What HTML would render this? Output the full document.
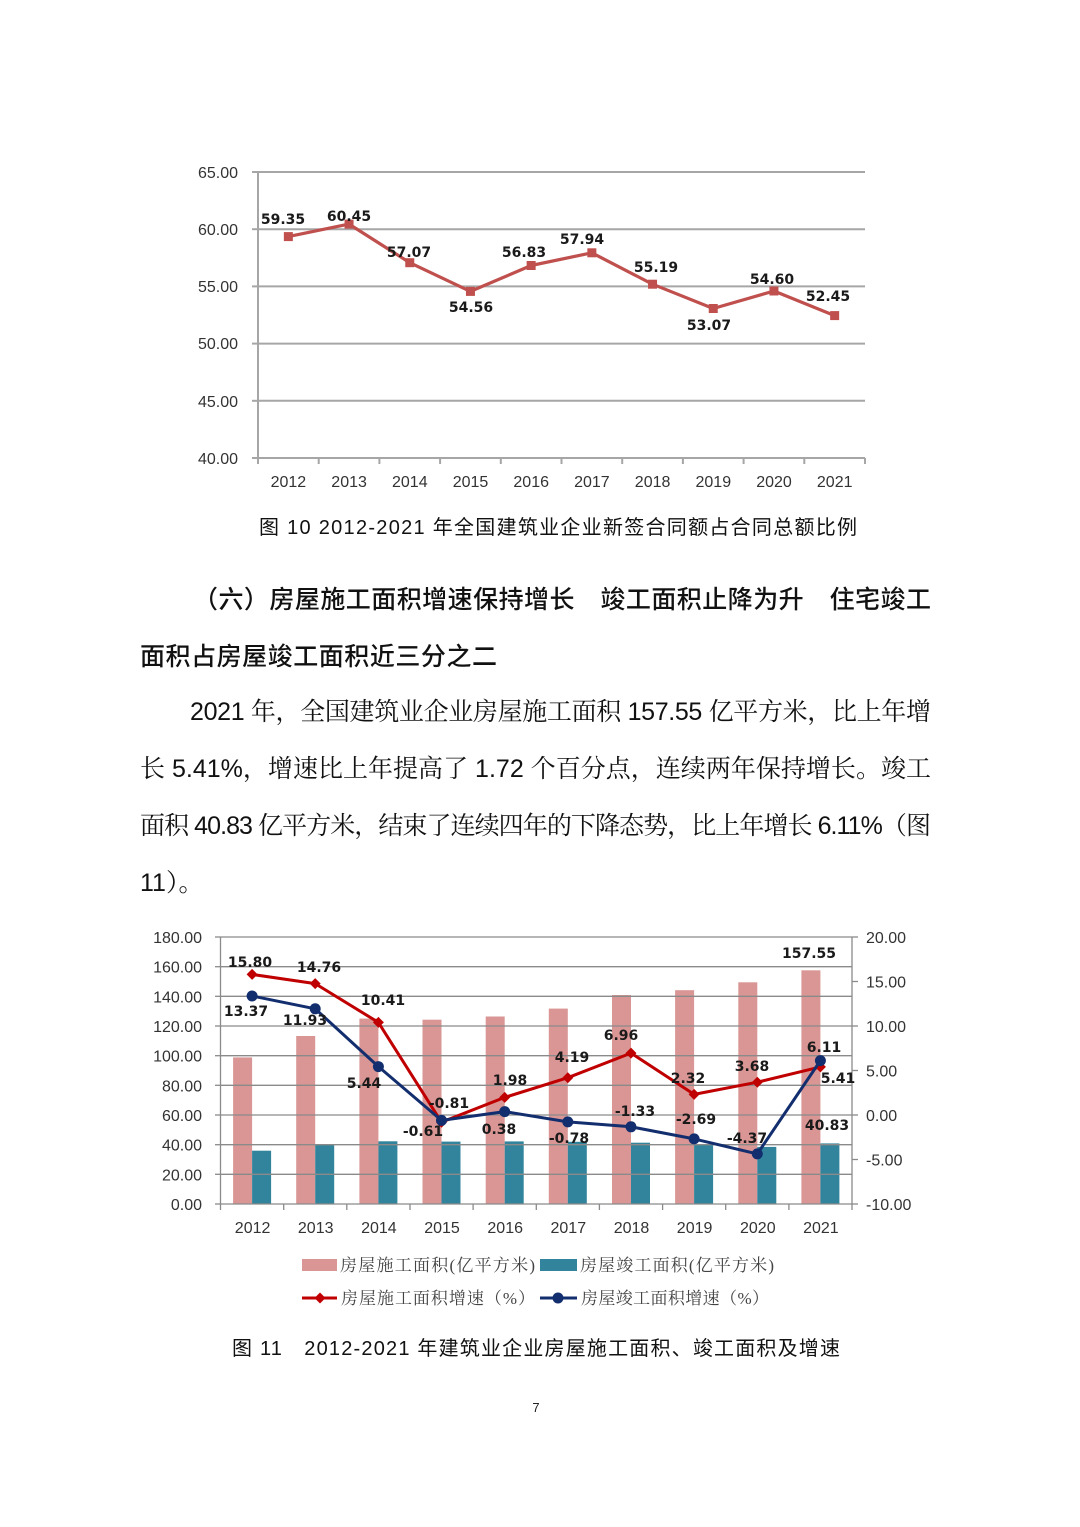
<!DOCTYPE html>
<html><head><meta charset="utf-8"><style>
html,body{margin:0;padding:0;background:#fff;}
svg{display:block;}
.ax{font-family:"Liberation Sans","DejaVu Sans",sans-serif;font-size:16px;fill:#333;}
.dl{font-family:"DejaVu Sans","Liberation Sans",sans-serif;font-size:14px;font-weight:bold;fill:#1a1a1a;}
.cap{font-family:"Liberation Sans","Noto Sans CJK SC",sans-serif;font-size:20px;fill:#111;}
.hd{font-family:"Liberation Sans","Noto Sans CJK SC",sans-serif;font-size:25px;fill:#111;font-weight:500;}
.pa{font-family:"Liberation Sans","Noto Serif CJK SC",serif;font-size:25px;fill:#111;}
.lg{font-family:"Liberation Serif","Noto Serif CJK SC",serif;font-size:17px;fill:#444;}
</style></head><body>
<svg width="1080" height="1527" viewBox="0 0 1080 1527" xmlns="http://www.w3.org/2000/svg">
<rect width="1080" height="1527" fill="#fff"/>

<!-- ===== Chart 10 ===== -->
<g stroke="#a6a6a6" stroke-width="2" fill="none">
  <line x1="258" y1="172" x2="865" y2="172"/>
  <line x1="258" y1="229.2" x2="865" y2="229.2"/>
  <line x1="258" y1="286.4" x2="865" y2="286.4"/>
  <line x1="258" y1="343.6" x2="865" y2="343.6"/>
  <line x1="258" y1="400.8" x2="865" y2="400.8"/>
  <line x1="258" y1="458" x2="865" y2="458"/>
  <line x1="258" y1="172" x2="258" y2="458"/>
  <line x1="252" y1="172" x2="258" y2="172"/>
  <line x1="252" y1="229.2" x2="258" y2="229.2"/>
  <line x1="252" y1="286.4" x2="258" y2="286.4"/>
  <line x1="252" y1="343.6" x2="258" y2="343.6"/>
  <line x1="252" y1="400.8" x2="258" y2="400.8"/>
  <line x1="252" y1="458" x2="258" y2="458"/>
  <line x1="258" y1="458" x2="258" y2="464"/>
  <line x1="318.7" y1="458" x2="318.7" y2="464"/>
  <line x1="379.4" y1="458" x2="379.4" y2="464"/>
  <line x1="440.1" y1="458" x2="440.1" y2="464"/>
  <line x1="500.8" y1="458" x2="500.8" y2="464"/>
  <line x1="561.5" y1="458" x2="561.5" y2="464"/>
  <line x1="622.2" y1="458" x2="622.2" y2="464"/>
  <line x1="682.9" y1="458" x2="682.9" y2="464"/>
  <line x1="743.6" y1="458" x2="743.6" y2="464"/>
  <line x1="804.3" y1="458" x2="804.3" y2="464"/>
  <line x1="865" y1="458" x2="865" y2="464"/>
</g>
<g class="ax" text-anchor="end">
  <text x="238" y="178">65.00</text>
  <text x="238" y="235">60.00</text>
  <text x="238" y="292">55.00</text>
  <text x="238" y="349">50.00</text>
  <text x="238" y="407">45.00</text>
  <text x="238" y="464">40.00</text>
</g>
<g class="ax" text-anchor="middle">
  <text x="288.4" y="487">2012</text>
  <text x="349.1" y="487">2013</text>
  <text x="409.8" y="487">2014</text>
  <text x="470.5" y="487">2015</text>
  <text x="531.2" y="487">2016</text>
  <text x="591.9" y="487">2017</text>
  <text x="652.6" y="487">2018</text>
  <text x="713.3" y="487">2019</text>
  <text x="774" y="487">2020</text>
  <text x="834.7" y="487">2021</text>
</g>
<polyline fill="none" stroke="#c0504d" stroke-width="3.2" stroke-linejoin="round"
 points="288.35,236.6 349.05,224.1 409.75,262.7 470.45,291.4 531.15,265.5 591.85,252.8 652.55,284.2 713.25,308.5 773.95,291.0 834.65,315.6"/>
<g fill="#c0504d">
  <rect x="283.85" y="232.1" width="9" height="9"/>
  <rect x="344.55" y="219.6" width="9" height="9"/>
  <rect x="405.25" y="258.2" width="9" height="9"/>
  <rect x="465.95" y="286.9" width="9" height="9"/>
  <rect x="526.65" y="261" width="9" height="9"/>
  <rect x="587.35" y="248.3" width="9" height="9"/>
  <rect x="648.05" y="279.7" width="9" height="9"/>
  <rect x="708.75" y="304" width="9" height="9"/>
  <rect x="769.45" y="286.5" width="9" height="9"/>
  <rect x="830.15" y="311.1" width="9" height="9"/>
</g>
<g class="dl" text-anchor="middle">
  <text x="283" y="224">59.35</text>
  <text x="349" y="221">60.45</text>
  <text x="409" y="257">57.07</text>
  <text x="471" y="312">54.56</text>
  <text x="524" y="257">56.83</text>
  <text x="582" y="244">57.94</text>
  <text x="656" y="272">55.19</text>
  <text x="709" y="330">53.07</text>
  <text x="772" y="284">54.60</text>
  <text x="828" y="301">52.45</text>
</g>

<text class="cap" x="259" y="534" textLength="598" lengthAdjust="spacing">图 10 2012-2021 年全国建筑业企业新签合同额占合同总额比例</text>

<!-- ===== Text ===== -->
<text class="hd" x="193" y="608" textLength="738" lengthAdjust="spacing">（六）房屋施工面积增速保持增长　竣工面积止降为升　住宅竣工</text>
<text class="hd" x="140" y="665" textLength="357" lengthAdjust="spacing">面积占房屋竣工面积近三分之二</text>

<text class="pa" x="190" y="720" textLength="741" lengthAdjust="spacing">2021 年，全国建筑业企业房屋施工面积 157.55 亿平方米，比上年增</text>
<text class="pa" x="140" y="777" textLength="791" lengthAdjust="spacing">长 5.41%，增速比上年提高了 1.72 个百分点，连续两年保持增长。竣工</text>
<text class="pa" x="140" y="834" textLength="791" lengthAdjust="spacing">面积 40.83 亿平方米，结束了连续四年的下降态势，比上年增长 6.11%（图</text>
<text class="pa" x="140" y="891">11）。</text>

<!-- ===== Chart 11 ===== -->
<g fill="#d99694">
  <rect x="233.1" y="1057.4" width="19" height="146.6"/>
  <rect x="296.2" y="1036.0" width="19" height="168"/>
  <rect x="359.4" y="1018.6" width="19" height="185.4"/>
  <rect x="422.5" y="1019.7" width="19" height="184.3"/>
  <rect x="485.7" y="1016.5" width="19" height="187.5"/>
  <rect x="548.8" y="1008.6" width="19" height="195.4"/>
  <rect x="612" y="995.0" width="19" height="209"/>
  <rect x="675.1" y="990.2" width="19" height="213.8"/>
  <rect x="738.3" y="982.3" width="19" height="221.7"/>
  <rect x="801.4" y="970.3" width="19" height="233.7"/>
</g>
<g fill="#31849b">
  <rect x="252.1" y="1150.7" width="19" height="53.3"/>
  <rect x="315.2" y="1144.4" width="19" height="59.6"/>
  <rect x="378.4" y="1141.3" width="19" height="62.7"/>
  <rect x="441.5" y="1141.6" width="19" height="62.4"/>
  <rect x="504.7" y="1141.4" width="19" height="62.6"/>
  <rect x="567.8" y="1141.8" width="19" height="62.2"/>
  <rect x="631" y="1142.7" width="19" height="61.3"/>
  <rect x="694.1" y="1144.4" width="19" height="59.6"/>
  <rect x="757.3" y="1146.9" width="19" height="57.1"/>
  <rect x="820.4" y="1143.4" width="19" height="60.6"/>
</g>
<g stroke="#8a8a8a" stroke-width="1.3" fill="none">
  <line x1="220.5" y1="937" x2="852" y2="937"/>
  <line x1="220.5" y1="966.7" x2="852" y2="966.7"/>
  <line x1="220.5" y1="996.3" x2="852" y2="996.3"/>
  <line x1="220.5" y1="1026" x2="852" y2="1026"/>
  <line x1="220.5" y1="1055.7" x2="852" y2="1055.7"/>
  <line x1="220.5" y1="1085.3" x2="852" y2="1085.3"/>
  <line x1="220.5" y1="1115" x2="852" y2="1115"/>
  <line x1="220.5" y1="1144.7" x2="852" y2="1144.7"/>
  <line x1="220.5" y1="1174.3" x2="852" y2="1174.3"/>
  <line x1="220.5" y1="1204" x2="852" y2="1204"/>
  <line x1="220.5" y1="937" x2="220.5" y2="1204"/>
  <line x1="852" y1="937" x2="852" y2="1204"/>
  <line x1="215" y1="937" x2="220.5" y2="937"/>
  <line x1="215" y1="966.7" x2="220.5" y2="966.7"/>
  <line x1="215" y1="996.3" x2="220.5" y2="996.3"/>
  <line x1="215" y1="1026" x2="220.5" y2="1026"/>
  <line x1="215" y1="1055.7" x2="220.5" y2="1055.7"/>
  <line x1="215" y1="1085.3" x2="220.5" y2="1085.3"/>
  <line x1="215" y1="1115" x2="220.5" y2="1115"/>
  <line x1="215" y1="1144.7" x2="220.5" y2="1144.7"/>
  <line x1="215" y1="1174.3" x2="220.5" y2="1174.3"/>
  <line x1="215" y1="1204" x2="220.5" y2="1204"/>
  <line x1="852" y1="937" x2="858" y2="937"/>
  <line x1="852" y1="981.5" x2="858" y2="981.5"/>
  <line x1="852" y1="1026" x2="858" y2="1026"/>
  <line x1="852" y1="1070.5" x2="858" y2="1070.5"/>
  <line x1="852" y1="1115" x2="858" y2="1115"/>
  <line x1="852" y1="1159.5" x2="858" y2="1159.5"/>
  <line x1="852" y1="1204" x2="858" y2="1204"/>
  <line x1="220.5" y1="1204" x2="220.5" y2="1210"/>
  <line x1="283.7" y1="1204" x2="283.7" y2="1210"/>
  <line x1="346.8" y1="1204" x2="346.8" y2="1210"/>
  <line x1="410" y1="1204" x2="410" y2="1210"/>
  <line x1="473.1" y1="1204" x2="473.1" y2="1210"/>
  <line x1="536.3" y1="1204" x2="536.3" y2="1210"/>
  <line x1="599.4" y1="1204" x2="599.4" y2="1210"/>
  <line x1="662.6" y1="1204" x2="662.6" y2="1210"/>
  <line x1="725.7" y1="1204" x2="725.7" y2="1210"/>
  <line x1="788.9" y1="1204" x2="788.9" y2="1210"/>
  <line x1="852" y1="1204" x2="852" y2="1210"/>
</g>
<g class="ax" text-anchor="end">
  <text x="202" y="943">180.00</text>
  <text x="202" y="972.7">160.00</text>
  <text x="202" y="1002.3">140.00</text>
  <text x="202" y="1032">120.00</text>
  <text x="202" y="1061.7">100.00</text>
  <text x="202" y="1091.3">80.00</text>
  <text x="202" y="1121">60.00</text>
  <text x="202" y="1150.7">40.00</text>
  <text x="202" y="1180.3">20.00</text>
  <text x="202" y="1210">0.00</text>
</g>
<g class="ax" text-anchor="start">
  <text x="866" y="943">20.00</text>
  <text x="866" y="987.5">15.00</text>
  <text x="866" y="1032">10.00</text>
  <text x="866" y="1076.5">5.00</text>
  <text x="866" y="1121">0.00</text>
  <text x="866" y="1165.5">-5.00</text>
  <text x="866" y="1210">-10.00</text>
</g>
<g class="ax" text-anchor="middle">
  <text x="252.6" y="1233">2012</text>
  <text x="315.7" y="1233">2013</text>
  <text x="378.9" y="1233">2014</text>
  <text x="442" y="1233">2015</text>
  <text x="505.2" y="1233">2016</text>
  <text x="568.3" y="1233">2017</text>
  <text x="631.5" y="1233">2018</text>
  <text x="694.6" y="1233">2019</text>
  <text x="757.8" y="1233">2020</text>
  <text x="820.9" y="1233">2021</text>
</g>
<!-- red line -->
<polyline fill="none" stroke="#c00000" stroke-width="3" stroke-linejoin="round"
 points="252.1,974.4 315.2,983.6 378.4,1022.4 441.5,1122.2 504.7,1097.4 567.8,1077.7 631,1053.1 694.1,1094.4 757.3,1082.2 820.4,1066.9"/>
<g fill="#c00000">
  <polygon points="252.1,968.9 257.6,974.4 252.1,979.9 246.6,974.4"/>
  <polygon points="315.2,978.1 320.7,983.6 315.2,989.1 309.7,983.6"/>
  <polygon points="378.4,1016.9 383.9,1022.4 378.4,1027.9 372.9,1022.4"/>
  <polygon points="441.5,1116.7 447,1122.2 441.5,1127.7 436,1122.2"/>
  <polygon points="504.7,1091.9 510.2,1097.4 504.7,1102.9 499.2,1097.4"/>
  <polygon points="567.8,1072.2 573.3,1077.7 567.8,1083.2 562.3,1077.7"/>
  <polygon points="631,1047.6 636.5,1053.1 631,1058.6 625.5,1053.1"/>
  <polygon points="694.1,1088.9 699.6,1094.4 694.1,1099.9 688.6,1094.4"/>
  <polygon points="757.3,1076.7 762.8,1082.2 757.3,1087.7 751.8,1082.2"/>
  <polygon points="820.4,1061.4 825.9,1066.9 820.4,1072.4 814.9,1066.9"/>
</g>
<!-- blue line -->
<polyline fill="none" stroke="#132e6e" stroke-width="3" stroke-linejoin="round"
 points="252.1,996.0 315.2,1008.8 378.4,1066.6 441.5,1120.4 504.7,1111.6 567.8,1121.9 631,1126.8 694.1,1138.9 757.3,1153.9 820.4,1060.6"/>
<g fill="#132e6e">
  <circle cx="252.1" cy="996.0" r="5.5"/>
  <circle cx="315.2" cy="1008.8" r="5.5"/>
  <circle cx="378.4" cy="1066.6" r="5.5"/>
  <circle cx="441.5" cy="1120.4" r="5.5"/>
  <circle cx="504.7" cy="1111.6" r="5.5"/>
  <circle cx="567.8" cy="1121.9" r="5.5"/>
  <circle cx="631" cy="1126.8" r="5.5"/>
  <circle cx="694.1" cy="1138.9" r="5.5"/>
  <circle cx="757.3" cy="1153.9" r="5.5"/>
  <circle cx="820.4" cy="1060.6" r="5.5"/>
</g>
<g class="dl" text-anchor="middle">
  <text x="250" y="967">15.80</text>
  <text x="319" y="972">14.76</text>
  <text x="383" y="1005">10.41</text>
  <text x="246" y="1016">13.37</text>
  <text x="305" y="1025">11.93</text>
  <text x="364" y="1088">5.44</text>
  <text x="449" y="1108">-0.81</text>
  <text x="423" y="1136">-0.61</text>
  <text x="510" y="1085">1.98</text>
  <text x="499" y="1134">0.38</text>
  <text x="572" y="1062">4.19</text>
  <text x="569" y="1143">-0.78</text>
  <text x="621" y="1040">6.96</text>
  <text x="635" y="1116">-1.33</text>
  <text x="688" y="1083">2.32</text>
  <text x="696" y="1124">-2.69</text>
  <text x="752" y="1071">3.68</text>
  <text x="747" y="1143">-4.37</text>
  <text x="824" y="1052">6.11</text>
  <text x="838" y="1083">5.41</text>
  <text x="827" y="1130">40.83</text>
  <text x="809" y="958">157.55</text>
</g>

<!-- legend -->
<rect x="302" y="1259" width="35" height="12" fill="#d99694"/>
<text class="lg" x="340" y="1271" textLength="195" lengthAdjust="spacing">房屋施工面积(亿平方米)</text>
<rect x="540" y="1259" width="37" height="12" fill="#31849b"/>
<text class="lg" x="580" y="1271" textLength="194" lengthAdjust="spacing">房屋竣工面积(亿平方米)</text>
<line x1="302" y1="1298" x2="337" y2="1298" stroke="#c00000" stroke-width="3"/>
<polygon points="320,1292.5 325.5,1298 320,1303.5 314.5,1298" fill="#c00000"/>
<text class="lg" x="341" y="1304" textLength="194" lengthAdjust="spacing">房屋施工面积增速（%）</text>
<line x1="540" y1="1298" x2="577" y2="1298" stroke="#132e6e" stroke-width="3"/>
<circle cx="558" cy="1298" r="5.5" fill="#132e6e"/>
<text class="lg" x="581" y="1304" textLength="188" lengthAdjust="spacing">房屋竣工面积增速（%）</text>

<text class="cap" x="232" y="1355" textLength="608" lengthAdjust="spacing">图 11　2012-2021 年建筑业企业房屋施工面积、竣工面积及增速</text>

<text x="536" y="1412" text-anchor="middle" font-family="Liberation Sans, sans-serif" font-size="13" fill="#222">7</text>
</svg>
</body></html>
